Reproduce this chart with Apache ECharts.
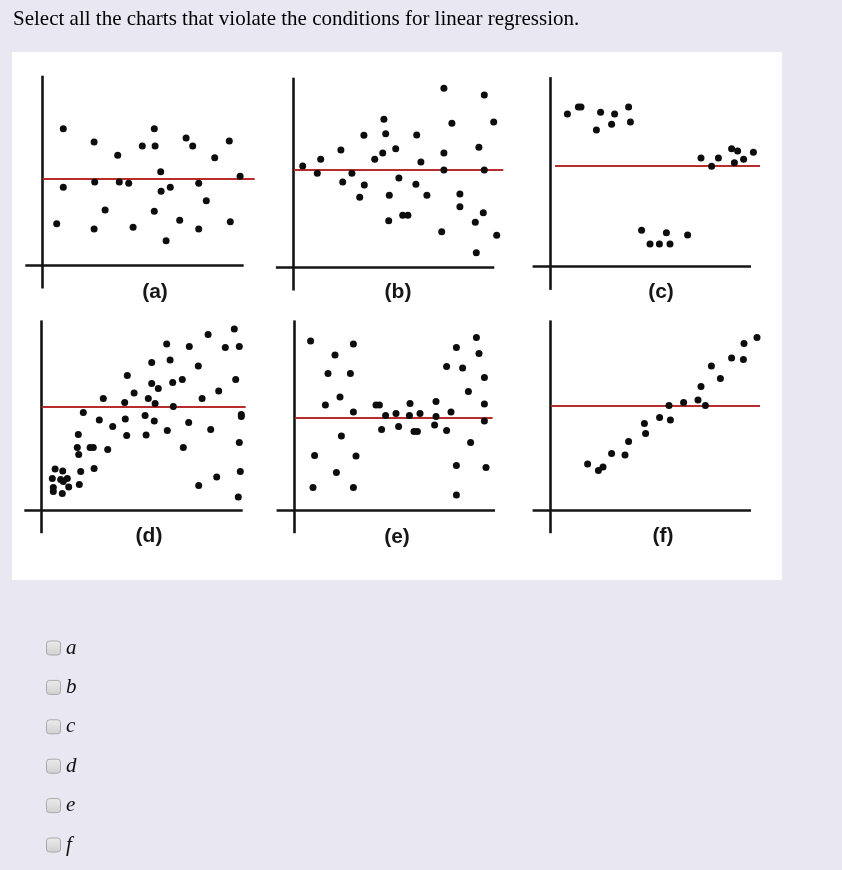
<!DOCTYPE html>
<html>
<head>
<meta charset="utf-8">
<script src="https://cdn.jsdelivr.net/npm/echarts@6/dist/echarts.min.js"></script>
<style>
html, body { margin: 0; padding: 0; background: #e9e7f2; }
#chart { width: 842px; height: 870px; }
</style>
</head>
<body>
<div id="chart"></div>
<script>
// question text and answer choices
const question = 'Select all the charts that violate the conditions for linear regression.'
const panelLabels = ['(a)', '(b)', '(c)', '(d)', '(e)', '(f)']
const choices = ['a', 'b', 'c', 'd', 'e', 'f']

// points for each panel, measured from where the two axes cross
const pointsA = [
  [10.3, 68.3], [25.7, 61.7], [37.5, 55], [49.8, 59.7], [55.8, 68.3], [56.2, 59.7],
  [71.7, 63.7], [75, 59.7], [93.3, 62.2], [86, 53.8], [59, 46.8], [10.3, 39],
  [26, 41.7], [38.3, 41.7], [43, 41], [59.2, 37], [63.8, 39], [78, 41],
  [98.7, 44.5], [81.8, 32.3], [31.2, 27.7], [55.8, 27], [7, 20.8], [25.7, 18.2],
  [45.2, 19], [68.5, 22.5], [78, 18.2], [93.8, 21.8], [61.7, 12.3]
]
const pointsB = [
  [75.3, 89.5], [95.5, 86.2], [79.3, 72], [100.2, 72.7], [45.3, 74], [35.3, 66],
  [46.2, 66.8], [61.7, 66.2], [23.8, 58.7], [51.2, 59.3], [44.7, 57.2], [40.7, 54],
  [13.7, 54], [4.7, 50.7], [75.3, 57.2], [92.8, 60], [63.8, 52.7], [12, 47],
  [29.3, 47], [75.3, 48.7], [95.5, 48.7], [24.7, 42.7], [35.5, 41.2], [52.8, 44.7],
  [61.3, 41.5], [33.2, 35], [48, 36], [66.8, 36], [83.3, 36.7], [83.3, 30.3],
  [54.7, 26], [57.3, 26], [47.7, 23.3], [95, 27.3], [74.2, 17.8], [91, 22.5],
  [101.7, 16], [91.5, 7.3]
]
const pointsC = [
  [8.7, 76.3], [14.2, 79.8], [15.5, 79.8], [25.3, 77.2], [32.3, 76.3], [39.3, 79.8],
  [23.2, 68.3], [30.8, 71.2], [40.2, 72.3],
  [75.5, 54.3], [80.8, 50.2], [84.2, 54.3], [90.8, 59], [93.8, 57.8], [92.2, 52],
  [96.8, 53.7], [101.7, 57.2],
  [45.8, 18.2], [58.2, 17], [68.8, 15.8], [50, 11.3], [54.7, 11.3], [60, 11.3]
]
const pointsD = [
  [6.7, 20.5], [10.5, 19.5], [5.3, 15.8], [9.5, 15.2], [12.8, 15.8], [5.8, 11.2],
  [5.8, 9.2], [10.3, 8.2], [13.5, 11.5], [10.8, 14.2],
  [20.8, 48.8], [18.3, 37.8], [17.8, 31.2], [18.5, 27.8], [24.2, 31.2], [25.8, 31.2],
  [19.5, 19.2], [18.8, 12.8], [26.2, 20.8], [28.8, 45], [30.8, 55.8], [33, 30.3],
  [35.5, 41.7], [41.5, 53.8], [41.8, 45.5], [42.5, 37.2], [42.8, 67.2], [46.2, 58.5],
  [51.7, 47.2], [52.2, 37.5], [53.3, 55.8], [55, 73.7], [55, 63.3], [56.7, 53.3],
  [56.3, 44.5], [58.3, 60.7], [62.5, 83], [64.2, 75], [65.5, 63.8], [65.8, 51.7],
  [62.8, 39.7], [70.3, 65.2], [70.8, 31.2], [73.5, 43.7], [73.8, 81.7], [78.3, 72],
  [80.2, 55.8], [78.5, 12.2], [83.2, 87.8], [84.5, 40.3], [88.5, 59.5], [87.5, 16.5],
  [91.8, 81.2], [96.3, 90.5], [98.8, 81.7], [97, 65.2], [99.8, 47.8], [99.8, 46.7],
  [98.8, 33.7], [99.3, 19.2], [98.3, 6.5]
]
const pointsE = [
  [8.3, 84.5], [20.5, 77.5], [29.7, 83], [17, 68.3], [28.2, 68.3], [23, 56.5],
  [15.7, 52.5], [29.7, 49], [10.3, 27.2], [23.7, 37], [31, 27], [21.2, 18.8],
  [9.5, 11.2], [29.7, 11.2],
  [41, 52.5], [42.7, 52.5], [45.8, 47.2], [43.8, 40.3], [51, 48.3], [52.3, 41.7],
  [58, 53.2], [57.7, 47.2], [63, 48.3], [60, 39.2], [61.7, 39.2], [71, 54.2],
  [71, 46.7], [70.3, 42.5], [76.3, 39.8], [78.5, 49],
  [76.3, 71.8], [81.2, 81.2], [91.2, 86.3], [92.5, 78.3], [84.3, 71], [95.2, 66.3],
  [87.2, 59.2], [95.2, 53], [95.2, 44.5], [88.3, 33.7], [81.2, 22.2], [96, 21.3],
  [81.2, 7.5]
]
const pointsF = [
  [18.8, 23], [24.2, 19.7], [26.5, 21.5], [30.8, 28.3], [37.5, 27.5], [39.3, 34.3],
  [47.2, 43.3], [47.8, 38.2], [54.8, 46.3], [60.2, 45], [59.5, 52.3], [66.8, 53.7],
  [74, 55], [77.7, 52.2], [75.5, 61.7], [80.7, 72], [85.2, 65.7], [90.8, 76],
  [96.7, 75.2], [97, 83.2], [103.5, 86.3]
]

// height of the red fitted line in each panel
const fitLevels = [43.5, 48.7, 50.7, 51.5, 46.2, 52.2]

const allPoints = [pointsA, pointsB, pointsC, pointsD, pointsE, pointsF]

// layout: pixel position of each panel's axis crossing, red line extents, label spots
const origins = [[42.7, 265.3], [293.3, 267.3], [550, 266.7], [41.7, 510], [294, 510], [550, 510]]
const redSpan = [[0, 106], [0.3, 105], [2.5, 105], [0, 102], [0.5, 99.3], [0.5, 105]]
const labelPos = [[155, 292], [398, 292], [661, 292], [149, 536], [397, 537], [663, 536]]

const chart = echarts.init(document.getElementById('chart'))

const grids = []
const xAxes = []
const yAxes = []
const series = []
allPoints.forEach((pts, i) => {
  const [ox, oy] = origins[i]
  grids.push({ left: ox - 19, top: oy - 192, width: 234, height: 216 })
  xAxes.push({ gridIndex: i, type: 'value', min: -9.5, max: 107.5, show: false })
  yAxes.push({ gridIndex: i, type: 'value', min: -12, max: 96, show: false })
  const axisStyle = { color: '#151515', width: 2.6, type: 'solid' }
  const redStyle = { color: '#b82d2c', width: 2.2, type: 'solid' }
  series.push({
    type: 'scatter',
    xAxisIndex: i,
    yAxisIndex: i,
    z: 3,
    silent: true,
    symbolSize: 7,
    itemStyle: { color: '#0d0d0d', opacity: 1 },
    data: pts,
    markLine: {
      silent: true,
      z: 1,
      symbol: ['none', 'none'],
      label: { show: false },
      emphasis: { disabled: true },
      data: [
        [{ coord: [-8.7, 0], lineStyle: axisStyle }, { coord: [100.5, 0], lineStyle: axisStyle }],
        [{ coord: [0, -11.6], lineStyle: axisStyle }, { coord: [0, 94.8], lineStyle: axisStyle }],
        [{ coord: [redSpan[i][0], fitLevels[i]], lineStyle: redStyle }, { coord: [redSpan[i][1], fitLevels[i]], lineStyle: redStyle }],
      ],
    },
  })
})

const graphics = [
  {
    type: 'rect',
    z: 0,
    silent: true,
    shape: { x: 12, y: 52, width: 770, height: 528 },
    style: { fill: '#ffffff' },
  },
]
panelLabels.forEach((t, i) => {
  graphics.push({
    type: 'text',
    z: 10,
    silent: true,
    x: labelPos[i][0],
    y: labelPos[i][1],
    style: {
      text: t,
      font: 'bold 21px "Liberation Sans", Arial, sans-serif',
      fill: '#161616',
      align: 'center',
      verticalAlign: 'middle',
      textAlign: 'center',
      textVerticalAlign: 'middle',
    },
  })
})
choices.forEach((c, i) => {
  const cy = 648 + i * 39.4
  graphics.push({
    type: 'rect',
    z: 10,
    silent: true,
    shape: { x: 46.5, y: cy - 7, width: 14, height: 14, r: 3 },
    style: {
      fill: {
        type: 'linear', x: 0, y: 0, x2: 0, y2: 1,
        colorStops: [{ offset: 0, color: '#ececec' }, { offset: 1, color: '#d0d0d0' }],
      },
      stroke: '#a9a9a9',
      lineWidth: 1,
    },
  })
  graphics.push({
    type: 'text',
    z: 10,
    silent: true,
    x: 66,
    y: cy,
    style: {
      text: c,
      font: 'italic 21px "Liberation Serif", "Times New Roman", serif',
      fill: '#111',
      align: 'left',
      verticalAlign: 'middle',
      textAlign: 'left',
      textVerticalAlign: 'middle',
    },
  })
})

const option = {
  backgroundColor: '#e9e7f2',
  animation: false,
  title: {
    text: question,
    left: 13,
    top: 9,
    padding: 0,
    textStyle: {
      fontFamily: '"Liberation Serif", "Times New Roman", serif',
      fontSize: 21,
      fontWeight: 'normal',
      color: '#000',
    },
  },
  graphic: graphics,
  grid: grids,
  xAxis: xAxes,
  yAxis: yAxes,
  series: series,
}
chart.setOption(option)
</script>
</body>
</html>
